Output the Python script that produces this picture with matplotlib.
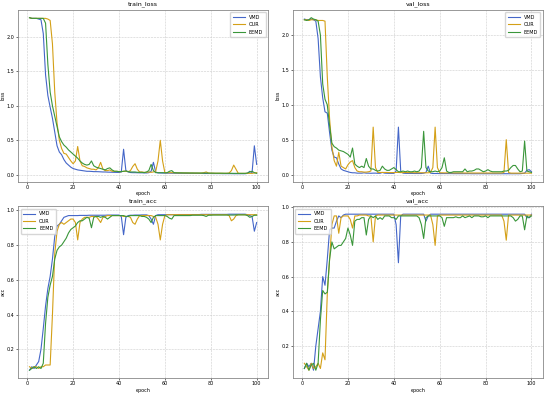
import matplotlib
matplotlib.use("Agg")
import matplotlib.pyplot as plt

epochs = list(range(1, 101))
labels = ["VMD", "OUR", "EEMD"]
titles = ["train_loss", "val_loss", "train_acc", "val_acc"]

vmd_train_loss = [
    2.28, 2.27, 2.27, 2.27, 2.26, 2.25, 2.05, 1.45, 1.15, 0.98,
    0.82, 0.62, 0.42, 0.33, 0.29, 0.22, 0.17, 0.14, 0.11, 0.09,
    0.08, 0.07, 0.065, 0.06, 0.055, 0.05, 0.05, 0.048, 0.045, 0.045,
    0.044, 0.042, 0.04, 0.04, 0.038, 0.037, 0.036, 0.035, 0.034, 0.033,
    0.04, 0.37, 0.06, 0.04, 0.032, 0.03, 0.03, 0.029, 0.028, 0.028,
    0.027, 0.026, 0.03, 0.05, 0.18, 0.04, 0.026, 0.025, 0.024, 0.024,
    0.023, 0.023, 0.022, 0.022, 0.022, 0.021, 0.021, 0.021, 0.02, 0.02,
    0.02, 0.02, 0.019, 0.019, 0.019, 0.019, 0.018, 0.018, 0.018, 0.018,
    0.017, 0.017, 0.017, 0.017, 0.016, 0.016, 0.016, 0.016, 0.016, 0.015,
    0.015, 0.015, 0.015, 0.015, 0.015, 0.02, 0.05, 0.03, 0.42, 0.15]
our_train_loss = [
    2.28, 2.27, 2.27, 2.27, 2.27, 2.27, 2.27, 2.27, 2.26, 2.24,
    1.9, 1.2, 0.75, 0.5, 0.38, 0.31, 0.3, 0.25, 0.2, 0.16,
    0.2, 0.41, 0.2, 0.13, 0.12, 0.1, 0.09, 0.08, 0.08, 0.07,
    0.1, 0.18, 0.08, 0.06, 0.06, 0.07, 0.05, 0.05, 0.05, 0.045,
    0.045, 0.05, 0.05, 0.045, 0.06, 0.12, 0.16, 0.08, 0.04, 0.04,
    0.035, 0.035, 0.04, 0.035, 0.04, 0.05, 0.2, 0.5, 0.2, 0.03,
    0.03, 0.03, 0.03, 0.028, 0.028, 0.027, 0.027, 0.026, 0.026, 0.025,
    0.025, 0.025, 0.024, 0.024, 0.024, 0.025, 0.03, 0.04, 0.025, 0.023,
    0.023, 0.022, 0.022, 0.022, 0.021, 0.021, 0.021, 0.025, 0.06, 0.14,
    0.08, 0.02, 0.02, 0.02, 0.02, 0.02, 0.02, 0.02, 0.025, 0.03]
eemd_train_loss = [
    2.28, 2.27, 2.27, 2.27, 2.27, 2.27, 2.27, 2.2, 1.6, 1.2,
    1.0, 0.85, 0.7, 0.55, 0.48, 0.43, 0.4, 0.36, 0.33, 0.3,
    0.27, 0.24, 0.2, 0.17, 0.15, 0.14, 0.15, 0.2, 0.13, 0.11,
    0.1, 0.09, 0.08, 0.07, 0.09, 0.1, 0.07, 0.05, 0.05, 0.045,
    0.045, 0.05, 0.055, 0.045, 0.04, 0.04, 0.04, 0.035, 0.035, 0.035,
    0.03, 0.04, 0.06, 0.15, 0.06, 0.03, 0.03, 0.03, 0.03, 0.028,
    0.03, 0.05, 0.06, 0.03, 0.028, 0.027, 0.027, 0.026, 0.026, 0.026,
    0.025, 0.025, 0.025, 0.025, 0.024, 0.024, 0.024, 0.024, 0.023, 0.023,
    0.023, 0.022, 0.022, 0.022, 0.022, 0.021, 0.021, 0.021, 0.021, 0.02,
    0.02, 0.02, 0.02, 0.02, 0.02, 0.025, 0.04, 0.05, 0.03, 0.02]

vmd_val_loss = [
    2.23, 2.22, 2.22, 2.23, 2.22, 2.2, 1.95, 1.4, 1.1, 0.9,
    0.88, 0.6, 0.35, 0.25, 0.24, 0.15, 0.08, 0.06, 0.05, 0.04,
    0.03, 0.025, 0.025, 0.02, 0.02, 0.02, 0.025, 0.02, 0.02, 0.018,
    0.02, 0.02, 0.018, 0.018, 0.03, 0.02, 0.018, 0.017, 0.017, 0.017,
    0.05, 0.68, 0.05, 0.02, 0.017, 0.016, 0.016, 0.016, 0.015, 0.015,
    0.015, 0.015, 0.02, 0.03, 0.12, 0.02, 0.015, 0.015, 0.015, 0.014,
    0.014, 0.014, 0.014, 0.014, 0.014, 0.013, 0.013, 0.013, 0.013, 0.013,
    0.013, 0.013, 0.013, 0.012, 0.012, 0.012, 0.012, 0.012, 0.012, 0.012,
    0.012, 0.012, 0.012, 0.012, 0.012, 0.012, 0.012, 0.012, 0.012, 0.012,
    0.012, 0.012, 0.012, 0.012, 0.012, 0.015, 0.02, 0.06, 0.07, 0.04]
our_val_loss = [
    2.22, 2.22, 2.21, 2.22, 2.22, 2.22, 2.21, 2.21, 2.21, 2.2,
    1.4, 0.8, 0.4, 0.2, 0.12, 0.32, 0.12, 0.1, 0.08, 0.14,
    0.18, 0.2, 0.1, 0.05, 0.04, 0.04, 0.035, 0.035, 0.04, 0.05,
    0.68, 0.1, 0.03, 0.03, 0.03, 0.03, 0.03, 0.028, 0.028, 0.028,
    0.03, 0.03, 0.028, 0.028, 0.03, 0.028, 0.027, 0.027, 0.026, 0.026,
    0.026, 0.026, 0.025, 0.025, 0.025, 0.03, 0.1, 0.68, 0.1, 0.025,
    0.025, 0.024, 0.024, 0.024, 0.024, 0.023, 0.023, 0.023, 0.023, 0.023,
    0.022, 0.022, 0.022, 0.022, 0.022, 0.022, 0.022, 0.022, 0.022, 0.022,
    0.022, 0.022, 0.022, 0.022, 0.022, 0.022, 0.022, 0.03, 0.5, 0.03,
    0.02, 0.02, 0.02, 0.02, 0.02, 0.02, 0.02, 0.02, 0.02, 0.02]
eemd_val_loss = [
    2.22, 2.21, 2.22, 2.25, 2.23, 2.22, 2.2, 2.0, 1.3, 1.08,
    1.0, 0.7, 0.45, 0.4, 0.38, 0.35, 0.34, 0.33, 0.31, 0.29,
    0.25, 0.38, 0.15, 0.12, 0.1, 0.12, 0.1, 0.23, 0.12, 0.08,
    0.08, 0.06, 0.05, 0.06, 0.12, 0.08, 0.06, 0.06, 0.08, 0.1,
    0.07, 0.04, 0.04, 0.05, 0.04, 0.05, 0.04, 0.04, 0.05, 0.04,
    0.05, 0.1, 0.62, 0.1, 0.05, 0.04, 0.04, 0.05, 0.04, 0.05,
    0.1, 0.24, 0.05, 0.03, 0.03, 0.04, 0.04, 0.04, 0.04, 0.04,
    0.08, 0.04, 0.05, 0.05, 0.06, 0.08, 0.08, 0.06, 0.04, 0.05,
    0.07, 0.05, 0.04, 0.04, 0.04, 0.04, 0.04, 0.05, 0.05, 0.06,
    0.1, 0.13, 0.13, 0.08, 0.04, 0.05, 0.48, 0.05, 0.04, 0.03]

vmd_train_acc = [
    0.08, 0.1, 0.09, 0.11, 0.13, 0.2, 0.32, 0.45, 0.55, 0.62,
    0.72, 0.85, 0.91, 0.92, 0.94, 0.96, 0.965, 0.97, 0.97, 0.97,
    0.97, 0.97, 0.971, 0.971, 0.971, 0.971, 0.972, 0.972, 0.972, 0.972,
    0.972, 0.972, 0.972, 0.972, 0.973, 0.973, 0.973, 0.973, 0.973, 0.973,
    0.965, 0.86, 0.96, 0.97, 0.972, 0.972, 0.973, 0.973, 0.973, 0.974,
    0.974, 0.974, 0.97, 0.95, 0.92, 0.97, 0.975, 0.975, 0.975, 0.975,
    0.975, 0.975, 0.975, 0.975, 0.975, 0.976, 0.976, 0.976, 0.976, 0.976,
    0.976, 0.976, 0.976, 0.976, 0.976, 0.977, 0.977, 0.977, 0.977, 0.977,
    0.977, 0.977, 0.977, 0.977, 0.977, 0.977, 0.977, 0.978, 0.978, 0.978,
    0.978, 0.978, 0.978, 0.978, 0.978, 0.975, 0.97, 0.965, 0.88, 0.93]
our_train_acc = [
    0.1, 0.09, 0.1, 0.1, 0.09, 0.1, 0.1, 0.11, 0.11, 0.11,
    0.4, 0.75, 0.88, 0.92, 0.93, 0.92, 0.93, 0.94, 0.95, 0.95,
    0.93, 0.83, 0.93, 0.95, 0.96, 0.96, 0.96, 0.965, 0.965, 0.965,
    0.95, 0.93, 0.96, 0.965, 0.97, 0.97, 0.97, 0.97, 0.97, 0.97,
    0.97, 0.965, 0.965, 0.965, 0.96, 0.93, 0.92, 0.95, 0.97, 0.97,
    0.97, 0.97, 0.97, 0.97, 0.965, 0.96, 0.92, 0.83, 0.92, 0.97,
    0.975, 0.975, 0.975, 0.975, 0.975, 0.975, 0.975, 0.975, 0.975, 0.975,
    0.975, 0.975, 0.975, 0.975, 0.975, 0.975, 0.975, 0.975, 0.975, 0.975,
    0.975, 0.975, 0.975, 0.975, 0.975, 0.975, 0.975, 0.97, 0.94, 0.95,
    0.97, 0.975, 0.975, 0.975, 0.975, 0.975, 0.975, 0.975, 0.975, 0.975]
eemd_train_acc = [
    0.08, 0.09, 0.1, 0.09, 0.1, 0.09, 0.12, 0.35, 0.5, 0.57,
    0.62, 0.72, 0.77, 0.79, 0.8, 0.82, 0.84, 0.87, 0.89, 0.9,
    0.91, 0.93, 0.94, 0.94, 0.95, 0.96, 0.955, 0.9, 0.96, 0.965,
    0.965, 0.96, 0.965, 0.96, 0.95, 0.96, 0.97, 0.97, 0.97, 0.97,
    0.97, 0.97, 0.965, 0.965, 0.97, 0.97, 0.97, 0.97, 0.97, 0.965,
    0.965, 0.96, 0.95, 0.93, 0.96, 0.97, 0.97, 0.97, 0.97, 0.97,
    0.965, 0.955, 0.95, 0.97, 0.97, 0.97, 0.97, 0.97, 0.97, 0.97,
    0.97, 0.972, 0.972, 0.972, 0.972, 0.972, 0.97, 0.965, 0.972, 0.972,
    0.973, 0.973, 0.973, 0.973, 0.973, 0.973, 0.973, 0.973, 0.973, 0.973,
    0.974, 0.974, 0.974, 0.974, 0.974, 0.97, 0.96, 0.965, 0.972, 0.972]

vmd_val_acc = [
    0.07, 0.1, 0.08, 0.1, 0.06, 0.2, 0.3, 0.4, 0.6, 0.55,
    0.7, 0.87, 0.88, 0.88, 0.92, 0.95, 0.94, 0.955, 0.96, 0.96,
    0.96, 0.96, 0.96, 0.96, 0.96, 0.96, 0.96, 0.96, 0.96, 0.96,
    0.96, 0.96, 0.96, 0.96, 0.96, 0.96, 0.96, 0.96, 0.96, 0.96,
    0.9, 0.68, 0.95, 0.96, 0.96, 0.96, 0.96, 0.96, 0.96, 0.96,
    0.96, 0.96, 0.96, 0.92, 0.95, 0.96, 0.96, 0.96, 0.96, 0.96,
    0.96, 0.96, 0.96, 0.96, 0.96, 0.96, 0.96, 0.96, 0.96, 0.96,
    0.96, 0.96, 0.96, 0.96, 0.96, 0.96, 0.96, 0.96, 0.96, 0.96,
    0.96, 0.96, 0.96, 0.96, 0.96, 0.96, 0.96, 0.96, 0.96, 0.96,
    0.96, 0.96, 0.96, 0.96, 0.96, 0.96, 0.96, 0.94, 0.94, 0.96]
our_val_acc = [
    0.1, 0.08, 0.06, 0.1, 0.07, 0.08, 0.1, 0.07, 0.16, 0.12,
    0.5, 0.7, 0.9, 0.95, 0.95, 0.85, 0.94, 0.95, 0.95, 0.95,
    0.93, 0.88, 0.95, 0.95, 0.955, 0.955, 0.955, 0.955, 0.95, 0.95,
    0.8, 0.95, 0.955, 0.955, 0.955, 0.955, 0.955, 0.955, 0.955, 0.955,
    0.955, 0.955, 0.955, 0.955, 0.955, 0.955, 0.955, 0.955, 0.955, 0.955,
    0.955, 0.955, 0.955, 0.955, 0.955, 0.955, 0.9, 0.78, 0.95, 0.955,
    0.955, 0.955, 0.955, 0.955, 0.955, 0.955, 0.955, 0.955, 0.955, 0.955,
    0.955, 0.955, 0.955, 0.955, 0.955, 0.955, 0.955, 0.955, 0.955, 0.955,
    0.955, 0.955, 0.955, 0.955, 0.955, 0.955, 0.955, 0.92, 0.81, 0.955,
    0.955, 0.955, 0.955, 0.955, 0.955, 0.955, 0.955, 0.955, 0.955, 0.955]
eemd_val_acc = [
    0.07, 0.1, 0.06, 0.09, 0.1, 0.06, 0.1, 0.35, 0.52, 0.5,
    0.51, 0.7, 0.8, 0.76, 0.77, 0.78, 0.78, 0.8, 0.82, 0.88,
    0.84, 0.78, 0.92, 0.93, 0.93, 0.94, 0.94, 0.84, 0.93, 0.95,
    0.94, 0.95, 0.93, 0.94, 0.93, 0.95, 0.95, 0.95, 0.94, 0.94,
    0.93, 0.95, 0.95, 0.95, 0.95, 0.95, 0.95, 0.95, 0.95, 0.95,
    0.94, 0.9, 0.82, 0.94, 0.95, 0.95, 0.95, 0.95, 0.95, 0.95,
    0.94, 0.89, 0.94, 0.94, 0.94, 0.94, 0.945, 0.94, 0.94, 0.95,
    0.94, 0.945, 0.95, 0.94, 0.95, 0.95, 0.95, 0.945, 0.945, 0.95,
    0.94, 0.95, 0.95, 0.95, 0.95, 0.95, 0.95, 0.95, 0.95, 0.95,
    0.95, 0.94, 0.92, 0.93, 0.95, 0.95, 0.87, 0.95, 0.94, 0.95]

panels = [
    (titles[0], "loss", [vmd_train_loss, our_train_loss, eemd_train_loss], "upper right"),
    (titles[1], "loss", [vmd_val_loss, our_val_loss, eemd_val_loss], "upper right"),
    (titles[2], "acc", [vmd_train_acc, our_train_acc, eemd_train_acc], "upper left"),
    (titles[3], "acc", [vmd_val_acc, our_val_acc, eemd_val_acc], "upper left"),
]
colors = ["#4466c8", "#d4a017", "#3a963a"]

fig, axes = plt.subplots(2, 2, figsize=(5.5, 3.95), dpi=100)
fig.subplots_adjust(left=0.033, right=0.987, top=0.975, bottom=0.043,
                    wspace=0.10, hspace=0.145)
for ax, (title, ylab, series, loc) in zip(axes.flat, panels):
    for s, lab, c in zip(series, labels, colors):
        ax.plot(epochs, s, color=c, lw=0.8, label=lab)
    ax.set_title(title, fontsize=4.5, pad=3)
    ax.set_xlabel("epoch", fontsize=3.5, labelpad=1)
    ax.set_ylabel(ylab, fontsize=3.5, labelpad=1)
    ax.tick_params(labelsize=3.5, length=1.5, width=0.4, pad=1)
    ax.grid(True, linestyle="--", color="#cccccc", lw=0.4)
    for sp in ax.spines.values():
        sp.set_color("#888888")
        sp.set_linewidth(0.6)
    ax.legend(loc=loc, fontsize=3.5, handlelength=2.5, frameon=True,
              borderpad=0.5, labelspacing=0.5, edgecolor="#cccccc")

fig.savefig("out.png", dpi=100)
